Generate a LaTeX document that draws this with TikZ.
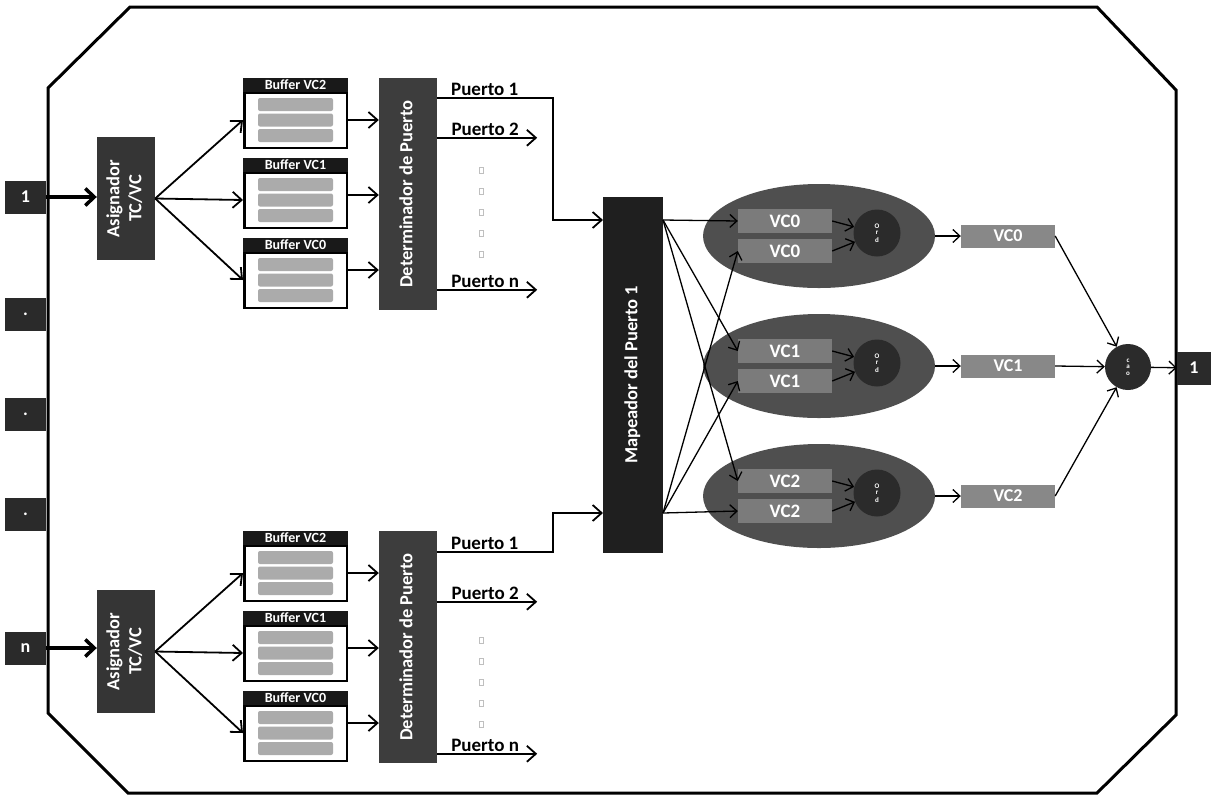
\documentclass[tikz,border=0pt]{standalone}
\usepackage{fontspec}
\setmainfont{Carlito}
\usetikzlibrary{arrows.meta,shapes.geometric}
\definecolor{asiggray}{HTML}{353535}
\definecolor{detgray}{HTML}{3D3D3D}
\definecolor{mapgray}{HTML}{1F1F1F}
\definecolor{portgray}{HTML}{2A2A2A}
\definecolor{ellgray}{HTML}{4F4F4F}
\definecolor{vcgray}{HTML}{7B7B7B}
\definecolor{ordgray}{HTML}{2B2B2B}
\definecolor{outgray}{HTML}{888888}
\definecolor{rowgray}{HTML}{ABABAB}
\newcommand{\VText}[1]{\rotatebox{90}{\begin{tabular}{@{}c@{}}#1\end{tabular}}}

\begin{document}
\begin{tikzpicture}[x=1pt,y=-1pt,>={Straight Barb[length=9pt,width=16pt]}]
			\tikzstyle{dbox} = [fill=asiggray, text=white, inner sep=0pt,
				font=\bfseries\fontsize{18.5}{22}\selectfont]
			\tikzstyle{port} = [dbox, fill=portgray, minimum width=41pt, minimum height=33pt,
				font=\bfseries\fontsize{18}{18}\selectfont]
			\tikzstyle{buftitle} = [fill=black!90, text=white, inner sep=0pt, minimum width=105pt,
				minimum height=14pt, font=\bfseries\fontsize{14}{14}\selectfont]
			\tikzstyle{bufbody} = [draw, line width=2.5pt, fill=white, inner sep=0pt,
				minimum width=102.5pt, minimum height=55.5pt]
			\tikzstyle{bufrow} = [fill=rowgray, rounded corners=2pt, inner sep=0pt,
				minimum width=75pt, minimum height=13pt]
			\tikzstyle{vcbox} = [fill=vcgray, text=white, inner sep=0pt, minimum width=94pt,
				minimum height=24pt, font=\bfseries\fontsize{19}{19}\selectfont]
			\tikzstyle{outbox} = [vcbox, fill=outgray, minimum height=23pt,
				font=\bfseries\fontsize{18}{18}\selectfont]
			\tikzstyle{ordc} = [circle, fill=ordgray, text=white, minimum size=47pt, inner sep=0pt,
				font=\bfseries\fontsize{7}{8}\selectfont]
			\tikzstyle{portlbl} = [above, inner sep=1.5pt, font=\bfseries\fontsize{19}{19}\selectfont]
			\tikzstyle{line} = [draw,->,line width=1.8pt]
			\tikzstyle{lineT} = [draw,>={Straight Barb[length=9pt,width=17pt]},->,line width=3.5pt]
			\tikzstyle{lineS} = [draw,>={Straight Barb[length=7pt,width=13pt]},->,line width=1.3pt]

			\useasboundingbox (0,0) rectangle (1218,796);

			% frame
			\draw[line width=3pt] (130,7) -- (1097,7) -- (1176,90) -- (1176,715) -- (1097,793)
				-- (128,793) -- (48,713) -- (48,88) -- cycle;

			\node(in1)[port] at (25.5,197) {1};
			\node(in2)[port] at (25.5,314) {.};
			\node(in3)[port] at (25.5,414) {.};
			\node(in4)[port] at (25.5,514) {.};
			\node(inn)[port] at (25.5,648) {n};

			\node(map)[dbox, fill=mapgray, minimum width=60pt, minimum height=356pt] at (633,375)
				{\VText{Mapeador del Puerto 1}};
			\coordinate (minA) at (603,220);
			\coordinate (minB) at (603,513);
			\coordinate (moutA) at (663,220);
			\coordinate (moutB) at (663,513);

			\foreach \g/\dy/\inp/\pa/\pb/\pc/\ds in {A/0/1/20/60/212/167, B/453/n/21/71/223/637}{
				\node(asig\g)[dbox, minimum width=58pt, minimum height=123pt] at (126,{198.5+\dy})
					{\VText{Asignador\\TC/VC}};
				\node(det\g)[dbox, fill=detgray, minimum width=58pt, minimum height=232pt] at (408,{194+\dy})
					{\VText{Determinador de Puerto}};
				\draw[lineT] (in\inp) -- (asig\g.west |- in\inp);
				\foreach \b/\k in {2/0,1/1,0/2}{
					\pgfmathsetmacro\ty{78+80*\k+\dy}
					\node(b\g\b)[bufbody] at (295.5,{\ty+42}) {};
					\node(t\g\b)[buftitle] at (295.5,{\ty+7}) {Buffer VC\b};
					\foreach \r/\rr in {1/-15.5,2/0,3/15.5}
						\node(r\g\b\r)[bufrow] at (295.5,{\ty+42+\rr}) {};
					\draw[line] (asig\g.east) -- (b\g\b.west);
					\draw[line] ([yshift={5*\k*1pt}]b\g\b.east) coordinate (s) -- (det\g.west |- s);
				}
				\draw[line] ([yshift={-\pa*1pt}]det\g.north east) -- ++(116,0)
					node[portlbl, pos=0.41]{Puerto 1} |- (min\g);
				\draw[line] ([yshift={-\pb*1pt}]det\g.north east) -- ++(100,0)
					node[portlbl, pos=0.48]{Puerto 2};
				\draw[line] ([yshift={-\pc*1pt}]det\g.north east) -- ++(100,0)
					node[portlbl, pos=0.48]{Puerto n};
				\foreach \d in {0,...,4}
					\draw[black!25] (479,{\ds+21*\d}) rectangle ++(4,6);
			}

			\foreach \v/\cy in {0/236,1/366,2/496}{
				\node(ell\v)[ellipse, fill=ellgray, minimum width=232pt, minimum height=104pt, inner sep=0pt]
					at (819,\cy) {};
				\node(vca\v)[vcbox] at (785,{\cy-15}) {VC\v};
				\node(vcb\v)[vcbox] at (785,{\cy+15}) {VC\v};
				\node(ord\v)[ordc] at (877,{\cy-3}) {\shortstack{O\\r\\d}};
				\node(out\v)[outbox] at (1008,\cy) {VC\v};
			}
			\node(arb)[ordc, minimum size=46pt] at (1128,367) {\shortstack{c\\a\\o}};
			\node(oport)[port, minimum width=34pt] at (1194,368) {1};

			\foreach \v in {0,1,2}{
				\draw[lineS] (moutA) -- (vca\v.west);
				\draw[lineS] (moutB) -- (vcb\v.west);
				\draw[lineS] (vca\v.east) -- (ord\v);
				\draw[lineS] (vcb\v.east) -- (ord\v);
				\draw[lineS] (ell\v.east) -- (out\v.west);
				\draw[lineS] (out\v.east) -- (arb);
			}
			\draw[lineS] (arb) -- (oport);
		\end{tikzpicture}
\end{document}
